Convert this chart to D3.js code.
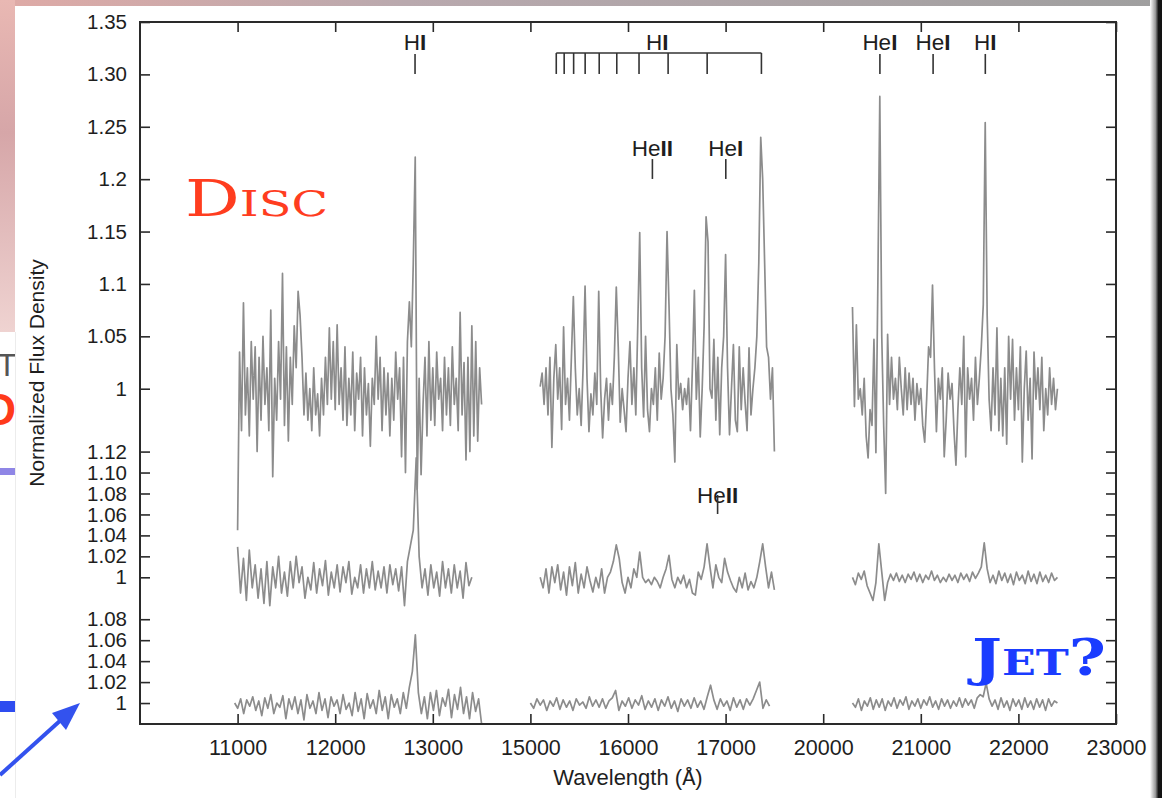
<!DOCTYPE html>
<html>
<head>
<meta charset="utf-8">
<script src="https://cdn.jsdelivr.net/npm/d3@7"></script>
<style>
  html, body { margin: 0; padding: 0; background: #fff; }
  svg { display: block; }
</style>
</head>
<body>
<svg id="chart" width="1162" height="798"></svg>
<script>
// ---- data ----
const WAVE_TICKS = [11000, 12000, 13000, 15000, 16000, 17000, 20000, 21000, 22000, 23000];

const TOP_TICKS = [1, 1.05, 1.1, 1.15, 1.2, 1.25, 1.30, 1.35];
const TOP_TICK_LABELS = ['1', '1.05', '1.1', '1.15', '1.2', '1.25', '1.30', '1.35'];
const MID_TICKS = [1, 1.02, 1.04, 1.06, 1.08, 1.10, 1.12];
const MID_TICK_LABELS = ['1', '1.02', '1.04', '1.06', '1.08', '1.10', '1.12'];
const BOT_TICKS = [1, 1.02, 1.04, 1.06, 1.08];
const BOT_TICK_LABELS = ['1', '1.02', '1.04', '1.06', '1.08'];

// vertical offset of each stacked spectrum (flux units)
const PANEL_OFFSETS = [0, 0.18, 0.30];

// wavelength range of each chunk [start, end], samples evenly spread
const TOP_RANGES = [[11000, 13500], [15100, 17500], [20300, 22400]];
const MID_RANGES = [[11000, 13400], [15100, 17500], [20300, 22400]];
const BOT_RANGES = [[10970, 13500], [15000, 17450], [20300, 22400]];

const TOP_J = [0.865, 1.035, 0.96, 1.082, 0.975, 1.02, 0.955, 1.045, 0.99, 1.04,
  0.94, 1.03, 0.97, 1.05, 0.985, 1.02, 0.96, 1.075, 0.916, 1.01,
  0.97, 1.045, 0.99, 1.11, 0.965, 1.04, 0.95, 1.03, 0.985, 1.06,
  1.02, 1.093, 1.07, 1.03, 0.975, 1.015, 0.97, 1.0, 0.96, 1.02,
  0.975, 0.995, 0.955, 1.01, 0.975, 1.03, 0.985, 1.058, 0.99, 1.045,
  0.98, 1.061, 0.985, 1.02, 0.97, 1.04, 0.965, 1.01, 0.975, 1.035,
  0.96, 1.015, 0.99, 1.03, 0.955, 1.02, 0.975, 1.005, 0.945, 1.01,
  0.985, 1.05, 0.99, 1.03, 0.96, 1.02, 0.975, 1.015, 0.955, 1.01,
  0.97, 1.035, 0.99, 1.02, 0.935, 1.03, 0.92, 1.045, 1.083, 1.04,
  1.12, 1.221, 0.904, 1.01, 0.918, 0.985, 1.03, 0.955, 1.045, 0.97,
  1.02, 0.965, 1.035, 0.99, 1.01, 0.96, 1.03, 0.975, 1.02, 0.965,
  1.04, 0.985, 1.01, 0.96, 1.073, 0.975, 1.025, 0.932, 1.03, 0.94,
  1.06, 0.955, 1.045, 0.95, 1.02, 0.985];
const TOP_H = [1.002, 1.015, 0.985, 1.02, 0.975, 1.03, 0.944, 1.01, 1.042, 0.99,
  1.02, 0.961, 1.059, 0.985, 1.01, 0.97, 1.03, 1.088, 1.02, 0.975,
  1.0, 0.965, 1.02, 1.098, 1.01, 0.959, 0.995, 0.975, 1.015, 0.985,
  1.093, 1.0, 0.953, 0.99, 1.01, 0.97, 1.005, 0.985, 1.03, 1.097,
  1.04, 0.968, 1.0, 0.98, 0.959, 1.01, 1.045, 0.985, 1.02, 0.975,
  1.06, 1.149, 1.02, 0.973, 1.05, 0.98, 0.959, 1.0, 0.985, 1.02,
  0.97, 1.034, 0.99, 1.01, 1.05, 1.15, 1.08, 1.0, 0.975, 0.93,
  1.042, 0.99, 1.005, 0.98, 1.0, 0.985, 1.01, 0.96, 1.02, 1.094,
  0.99, 1.03, 0.954, 1.0, 1.06, 1.164, 1.14, 1.0, 0.991, 1.047,
  0.97, 1.03, 0.956, 1.02, 1.05, 1.128, 1.02, 0.956, 1.0, 1.042,
  0.97, 0.959, 1.04, 0.98, 1.02, 0.987, 0.96, 1.039, 0.975, 1.0,
  1.02, 1.05, 1.12, 1.24, 1.2, 1.12, 1.04, 1.03, 0.99, 1.02,
  0.94];
const TOP_K = [1.078, 0.983, 1.061, 0.99, 1.0, 0.975, 1.01, 0.955, 0.934, 0.98,
  0.965, 1.047, 0.939, 1.1, 1.279, 1.05, 0.964, 0.9, 1.052, 0.985,
  1.03, 0.99, 1.01, 0.98, 1.03, 1.0, 0.975, 1.02, 0.98, 1.015,
  0.985, 1.01, 0.97, 1.005, 0.985, 1.0, 0.965, 0.949, 0.99, 1.04,
  1.03, 1.099, 1.02, 0.959, 1.01, 0.99, 1.02, 0.935, 0.97, 1.015,
  0.99, 1.005, 0.96, 0.927, 0.98, 1.02, 0.985, 1.05, 0.935, 1.02,
  0.99, 1.01, 0.97, 1.03, 0.985, 1.01, 1.04, 1.08, 1.254, 1.07,
  0.99, 0.96, 1.02, 0.975, 1.058, 0.96, 1.01, 0.955, 1.02, 0.947,
  1.05, 0.99, 1.047, 0.97, 1.02, 0.98, 1.04, 0.93, 1.0, 1.036,
  0.97, 1.01, 0.933, 1.035, 0.99, 1.02, 0.98, 1.03, 0.96, 1.0,
  0.975, 1.02, 0.985, 1.01, 0.98, 1.0];

const MID_J = [1.029, 0.985, 1.018, 0.978, 1.026, 0.99, 1.012, 0.98, 1.008, 0.975,
  1.015, 0.973, 1.01, 0.99, 1.02, 0.985, 1.005, 0.982, 1.015, 0.99,
  1.02, 0.995, 1.01, 0.98, 1.0, 0.988, 1.014, 0.985, 1.008, 0.992,
  1.016, 0.983, 1.005, 0.99, 1.012, 0.986, 1.01, 0.995, 1.015, 0.984,
  1.0, 0.99, 1.012, 0.985, 1.008, 0.99, 1.015, 0.988, 1.006, 0.99,
  1.01, 0.985, 1.012, 0.993, 1.008, 0.987, 1.01, 0.973, 1.015, 1.03,
  1.045, 1.114, 1.02, 0.99, 1.008, 0.983, 1.012, 0.99, 1.005, 0.982,
  1.015, 0.99, 1.008, 0.985, 1.012, 0.99, 1.006, 0.98, 1.014, 0.992,
  1.0];
const MID_H = [1.0, 0.99, 1.008, 0.985, 1.01, 0.995, 1.012, 0.988, 1.005, 0.983,
  1.01, 0.992, 1.014, 0.985, 1.003, 0.99, 1.01, 0.997, 0.986, 1.0,
  0.99, 1.008, 0.985, 1.0, 1.005, 1.015, 1.031, 1.018, 0.995, 0.985,
  1.0, 0.99, 1.008, 1.0, 1.024, 1.0, 0.995, 0.998, 0.993, 1.0,
  0.996, 0.99, 1.0, 1.008, 1.021, 0.998, 0.99, 1.0, 0.994, 1.002,
  0.99, 0.998, 0.985, 0.983, 1.005, 0.998, 1.01, 1.032, 1.01, 0.99,
  1.012, 1.0, 0.995, 1.018, 1.005, 0.997, 0.99, 0.986, 1.0, 0.99,
  1.004, 0.988, 0.996, 0.99, 1.0, 1.015, 1.032, 1.01, 0.99, 1.005,
  0.988];
const MID_K = [1.0, 0.993, 1.004, 0.998, 1.006, 0.992, 0.985, 0.978, 0.995, 1.032,
  1.005, 0.978, 0.995, 1.003, 0.997, 1.004, 0.996, 1.002, 0.995, 1.003,
  0.998, 1.005, 0.996, 1.003, 0.995, 1.002, 0.998, 1.006, 0.997, 1.002,
  0.995, 1.0, 0.996, 1.003, 0.997, 1.002, 0.995, 1.004, 0.998, 1.003,
  0.996, 1.005, 0.999, 1.004, 1.01, 1.033, 1.008, 0.995, 1.002, 0.994,
  1.006, 0.997, 1.004, 0.995, 1.003, 0.993, 1.005, 0.997, 1.002, 0.994,
  1.006, 0.996, 1.003, 0.994, 1.005, 0.996, 1.002, 0.995, 1.004, 0.997,
  1.0];

const BOT_J = [1.0, 0.995, 1.004, 0.99, 1.003, 0.997, 1.006, 0.993, 1.002, 0.988,
  1.005, 0.995, 1.008, 0.99, 1.0, 0.996, 1.007, 0.985, 1.004, 0.994,
  1.006, 0.99, 1.003, 0.984, 1.008, 0.995, 1.002, 0.99, 1.01, 0.993,
  1.004, 0.986, 1.006, 0.997, 1.003, 0.99, 1.008, 0.994, 1.0, 0.988,
  1.01, 0.992, 1.004, 0.985, 1.009, 0.995, 1.003, 0.99, 1.012, 0.993,
  1.006, 0.985, 1.008, 0.996, 1.004, 0.99, 1.01, 0.995, 1.015, 1.03,
  1.065, 1.01, 0.99, 1.006, 0.985, 1.01, 0.993, 1.012, 0.988, 1.005,
  0.997, 1.013, 0.986, 1.008, 0.994, 1.015, 0.99, 1.006, 0.985, 1.01,
  0.992, 1.004, 0.98];
const BOT_H = [1.0, 0.995, 1.004, 0.998, 1.003, 0.993, 1.002, 0.997, 1.005, 0.994,
  1.003, 0.996, 1.002, 0.993, 1.004, 0.998, 1.001, 0.995, 1.006, 0.997,
  1.003, 0.996, 1.004, 0.995, 1.002, 1.005, 1.012, 0.993, 1.002, 0.997,
  1.005, 0.995, 1.003, 0.998, 1.007, 0.994, 1.002, 0.996, 1.004, 0.993,
  1.003, 0.997, 1.006, 0.995, 1.002, 0.992, 1.004, 0.997, 1.003, 0.995,
  1.005, 0.996, 1.002, 0.994, 1.006, 1.017, 1.003, 0.994, 1.004, 0.997,
  1.002, 0.993, 1.005, 0.996, 1.003, 0.994, 1.004, 0.998, 1.004, 1.012,
  1.02, 0.995, 1.003, 0.997];
const BOT_K = [1.0, 0.996, 1.004, 0.993, 1.002, 0.997, 1.005, 0.994, 1.003, 0.996,
  1.004, 0.993, 1.002, 0.997, 1.005, 0.995, 1.003, 0.998, 1.006, 0.994,
  1.002, 0.997, 1.004, 0.995, 1.003, 0.998, 1.006, 0.996, 1.002, 0.994,
  1.004, 0.997, 1.003, 0.995, 1.002, 0.997, 1.005, 0.996, 1.004, 0.998,
  1.003, 0.995, 1.005, 1.008, 1.006, 1.019, 1.004, 0.997, 1.003, 0.994,
  1.005, 0.996, 1.002, 0.993, 1.004, 0.997, 1.003, 0.994, 1.005, 0.996,
  1.002, 0.994, 1.004, 0.996, 1.003, 0.993, 1.004, 0.997, 1.002, 1.0];

// line identifications (wavelength in Angstrom)
const TOP_ROW_LINES = [
  { w: 12818, ion: 'H', stage: 'I' },
  { w: 20581, ion: 'He', stage: 'I' },
  { w: 21126, ion: 'He', stage: 'I' },
  { w: 21661, ion: 'H', stage: 'I' }
];
const BRACKETT_LINES = [15265, 15346, 15443, 15561, 15705, 15885, 16113, 16411, 16811, 17367];
const MID_ROW_LINES = [
  { w: 16250, ion: 'He', stage: 'II' },
  { w: 17002, ion: 'He', stage: 'I' }
];
const PANEL2_LINES = [{ w: 16918, ion: 'He', stage: 'II' }];

// ---- layout ----
const W = 1162, H = 798;
const frame = { left: 140, right: 1116, top: 22, bottom: 724 };
const FONT = "'Liberation Sans', Arial, Helvetica, sans-serif";
const TEXT_COL = '#1e1e1e';
const SPEC_COL = '#8c8c8c';

const svg = d3.select('#chart');

// broken wavelength axis: equal spacing per 1000 A, gaps collapsed
const x = d3.scaleLinear()
  .domain([10000, 14000, 15000, 18000, 20000, 23000])
  .range([0, 4, 4, 7, 7, 10].map(u => frame.left + u * (frame.right - frame.left) / 10));

const y = d3.scaleLinear()
  .domain([0.68, 1.35])
  .range([frame.bottom, frame.top]);

// ---- slide background bits ----
const defs = svg.append('defs');

const topGrad = defs.append('linearGradient').attr('id', 'topGrad');
topGrad.append('stop').attr('offset', '0%').attr('stop-color', '#dfaaa6');
topGrad.append('stop').attr('offset', '35%').attr('stop-color', '#b9a9ae');
topGrad.append('stop').attr('offset', '100%').attr('stop-color', '#9f9f9f');

const leftGrad = defs.append('linearGradient').attr('id', 'leftGrad')
  .attr('x1', 0).attr('y1', 0).attr('x2', 0).attr('y2', 1);
leftGrad.append('stop').attr('offset', '0%').attr('stop-color', '#e9b8b3');
leftGrad.append('stop').attr('offset', '40%').attr('stop-color', '#d6a6a8');
leftGrad.append('stop').attr('offset', '100%').attr('stop-color', '#efd3d1');

const rightGrad = defs.append('linearGradient').attr('id', 'rightGrad');
rightGrad.append('stop').attr('offset', '0%').attr('stop-color', '#ffffff');
rightGrad.append('stop').attr('offset', '45%').attr('stop-color', '#9a9a9a');
rightGrad.append('stop').attr('offset', '70%').attr('stop-color', '#151515');
rightGrad.append('stop').attr('offset', '100%').attr('stop-color', '#111111');

defs.append('clipPath').attr('id', 'leftClip')
  .append('rect').attr('x', 0).attr('y', 0).attr('width', 15).attr('height', H);

svg.append('rect').attr('width', W).attr('height', H).attr('fill', '#fff');
svg.append('rect').attr('x', 0).attr('y', 0).attr('width', W).attr('height', 6).attr('fill', 'url(#topGrad)');
svg.append('rect').attr('x', 0).attr('y', 0).attr('width', 15).attr('height', 332).attr('fill', 'url(#leftGrad)');
svg.append('rect').attr('x', 1150).attr('y', 0).attr('width', 12).attr('height', H).attr('fill', 'url(#rightGrad)');
svg.append('line').attr('x1', 15.5).attr('x2', 15.5).attr('y1', 332).attr('y2', H)
  .attr('stroke', '#ececec').attr('stroke-width', 1);

// bits of the slide peeking out on the left
const slide = svg.append('g').attr('clip-path', 'url(#leftClip)');
slide.append('text').attr('x', 7).attr('y', 376).attr('text-anchor', 'middle')
  .style('font-family', FONT).style('font-size', '32px').style('fill', '#555').text('T');
slide.append('text').attr('x', 16).attr('y', 425).attr('text-anchor', 'end')
  .style('font-family', FONT).style('font-size', '44px').style('font-weight', 'bold')
  .style('fill', '#ff3a1a').text('D');
slide.append('rect').attr('x', 0).attr('y', 468).attr('width', 15).attr('height', 7).attr('fill', '#8f86e6');
slide.append('rect').attr('x', 0).attr('y', 701).attr('width', 15).attr('height', 11).attr('fill', '#2e4cf0');

// blue arrow pointing at the lower spectrum
svg.append('line').attr('x1', 0).attr('y1', 775).attr('x2', 62).attr('y2', 719)
  .attr('stroke', '#3352ee').attr('stroke-width', 4);
svg.append('polygon').attr('points', '80,703 66,730 52,713').attr('fill', '#3352ee');

// ---- axes ----
function styleAxis(size) {
  return g => {
    g.select('.domain').remove();
    g.selectAll('.tick line').attr('stroke', '#2a2a2a').attr('stroke-width', 1.6);
    g.selectAll('.tick text')
      .style('font-family', FONT)
      .style('font-size', size)
      .style('fill', TEXT_COL);
  };
}

svg.append('g')
  .attr('transform', `translate(0,${frame.bottom})`)
  .call(d3.axisBottom(x).tickValues(WAVE_TICKS).tickSize(-10).tickPadding(16).tickFormat(d3.format('d')))
  .call(styleAxis('21.5px'));

svg.append('g')
  .attr('transform', `translate(0,${frame.top})`)
  .call(d3.axisTop(x).tickValues(WAVE_TICKS).tickSize(-10).tickFormat(''))
  .call(styleAxis('21.5px'));

const panelTicks = [
  { ticks: TOP_TICKS, labels: TOP_TICK_LABELS, offset: PANEL_OFFSETS[0] },
  { ticks: MID_TICKS, labels: MID_TICK_LABELS, offset: PANEL_OFFSETS[1] },
  { ticks: BOT_TICKS, labels: BOT_TICK_LABELS, offset: PANEL_OFFSETS[2] }
];

panelTicks.forEach(p => {
  // same pixel scale, shifted domain for each stacked spectrum
  const yp = y.copy().domain(y.domain().map(d => d + p.offset));
  svg.append('g')
    .attr('transform', `translate(${frame.left},0)`)
    .call(d3.axisLeft(yp).tickValues(p.ticks).tickSize(-10).tickPadding(13)
      .tickFormat((d, i) => p.labels[i]))
    .call(styleAxis('20.5px'));
  svg.append('g')
    .attr('transform', `translate(${frame.right},0)`)
    .call(d3.axisRight(yp).tickValues(p.ticks).tickSize(-10).tickFormat(''))
    .call(styleAxis('20.5px'));
});

// ---- spectra ----
const spectra = [
  { ranges: TOP_RANGES, chunks: [TOP_J, TOP_H, TOP_K], offset: PANEL_OFFSETS[0] },
  { ranges: MID_RANGES, chunks: [MID_J, MID_H, MID_K], offset: PANEL_OFFSETS[1] },
  { ranges: BOT_RANGES, chunks: [BOT_J, BOT_H, BOT_K], offset: PANEL_OFFSETS[2] }
];

spectra.forEach(s => {
  const line = d3.line()
    .x(d => x(d.w))
    .y(d => y(d.v - s.offset));
  s.chunks.forEach((vals, k) => {
    const [w0, w1] = s.ranges[k];
    const pts = vals.map((v, i) => ({ w: w0 + i * (w1 - w0) / (vals.length - 1), v }));
    svg.append('path')
      .datum(pts)
      .attr('d', line)
      .attr('fill', 'none')
      .attr('stroke', SPEC_COL)
      .attr('stroke-width', 1.7)
      .attr('stroke-linejoin', 'round');
  });
});

// ---- frame ----
svg.append('rect')
  .attr('x', frame.left).attr('y', frame.top)
  .attr('width', frame.right - frame.left).attr('height', frame.bottom - frame.top)
  .attr('fill', 'none').attr('stroke', '#2a2a2a').attr('stroke-width', 2);

// ---- line identifications ----
const ann = svg.append('g').style('font-family', FONT).style('font-size', '22.5px').style('fill', TEXT_COL);

function ionLabel(px, py, d) {
  const t = ann.append('text').attr('x', px).attr('y', py).attr('text-anchor', 'middle');
  t.append('tspan').text(d.ion);
  t.append('tspan').style('font-weight', 'bold').text(d.stage);
}

function marker(px, v0, v1) {
  ann.append('line')
    .attr('x1', px).attr('x2', px)
    .attr('y1', y(v0)).attr('y2', y(v1))
    .attr('stroke', '#333').attr('stroke-width', 1.6);
}

TOP_ROW_LINES.forEach(d => {
  ionLabel(x(d.w), y(1.3233), d);
  marker(x(d.w), 1.3195, 1.3004);
});

// Brackett series comb
const brX = BRACKETT_LINES.map(w => x(w));
ann.append('line')
  .attr('x1', d3.min(brX)).attr('x2', d3.max(brX))
  .attr('y1', y(1.3204)).attr('y2', y(1.3204))
  .attr('stroke', '#333').attr('stroke-width', 1.6);
brX.forEach(px => marker(px, 1.3204, 1.3004));
ionLabel(x(16300), y(1.3233), { ion: 'H', stage: 'I' });

MID_ROW_LINES.forEach(d => {
  ionLabel(x(d.w), y(1.2221), d);
  marker(x(d.w), 1.2192, 1.2002);
});

PANEL2_LINES.forEach(d => {
  const off = PANEL_OFFSETS[1];
  ionLabel(x(d.w), y(1.0714 - off), d);
  marker(x(d.w), 1.0786 - off, 1.0604 - off);
});

// ---- axis titles ----
svg.append('text')
  .attr('transform', 'translate(44,373) rotate(-90)')
  .attr('text-anchor', 'middle')
  .style('font-family', FONT).style('font-size', '21px').style('fill', TEXT_COL)
  .text('Normalized Flux Density');

const xt = svg.append('text')
  .attr('x', 628).attr('y', 785)
  .attr('text-anchor', 'middle')
  .style('font-family', FONT).style('font-size', '22px').style('fill', TEXT_COL);
xt.append('tspan').text('Wavelength (');
xt.append('tspan').style('font-family', "'Liberation Mono', 'DejaVu Sans Mono', monospace").text('Å');
xt.append('tspan').text(')');

// ---- slide overlay words ----
svg.append('text')
  .attr('x', 185).attr('y', 216)
  .attr('textLength', 143).attr('lengthAdjust', 'spacingAndGlyphs')
  .style('font-family', "'DejaVu Serif', 'Liberation Serif', serif")
  .style('font-variant', 'small-caps')
  .style('font-size', '50px')
  .style('fill', '#ff3d1f')
  .text('Disc');

svg.append('text')
  .attr('x', 972).attr('y', 675)
  .attr('textLength', 134).attr('lengthAdjust', 'spacingAndGlyphs')
  .style('font-family', "'DejaVu Serif', 'Liberation Serif', serif")
  .style('font-variant', 'small-caps')
  .style('font-weight', 'bold')
  .style('font-size', '50px')
  .style('fill', '#1a3cff')
  .text('Jet?');
</script>
</body>
</html>
